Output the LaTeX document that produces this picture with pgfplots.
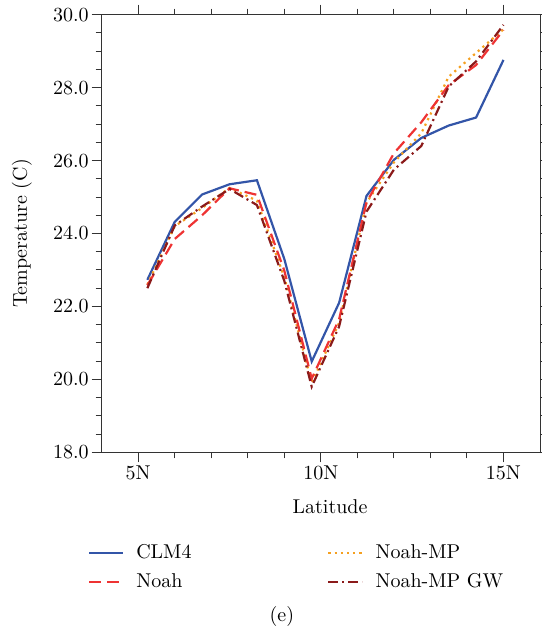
\documentclass[border=0pt]{standalone}
\usepackage{pgfplots}
\pgfplotsset{compat=1.18}
\definecolor{clmblue}{HTML}{3355A8}
\definecolor{noahred}{HTML}{EE3333}
\definecolor{mporange}{HTML}{F5A020}
\definecolor{gwred}{HTML}{8B1A1A}
\begin{document}
\begin{tikzpicture}
\begin{axis}[
  at={(0,0)}, anchor=south west,
  scale only axis, width=219.15pt, height=218.8pt,
  xmin=4, xmax=16, ymin=18, ymax=30,
  clip=false,
  xtick={5,10,15}, xticklabels={5N,10N,15N},
  minor x tick num=4,
  ytick={18,20,22,24,26,28,30},
  minor y tick num=3,
  yticklabel style={xshift=2pt, /pgf/number format/.cd, fixed, fixed zerofill, precision=1},
  tick align=outside,
  major tick length=5pt, minor tick length=3pt,
  every tick/.style={black!80, line width=0.5pt},
  axis line style={black!80, line width=0.5pt},
  font=\fontsize{10}{12}\selectfont,
  xticklabel style={yshift=2pt},
  xlabel={Latitude}, ylabel={Temperature (C)},
  xlabel style={at={(axis description cs:0.521,-0.125)}, anchor=center},
  ylabel style={at={(axis description cs:-0.182,0.5)}, anchor=center},
  legend columns=2,
  legend style={draw=none, fill=none, at={(axis description cs:0,0)}, anchor=north west,
    xshift=-10pt, yshift=-42pt, row sep=2pt, cells={anchor=west},
    /tikz/every even column/.append style={column sep=0pt}},
  legend image code/.code={\draw[#1] plot coordinates {(0pt,0pt) (17pt,0pt)}; \path (21pt,0pt);},
]
\addplot[clmblue, line width=1.1pt] coordinates {
(5.25,22.73) (6.0,24.32) (6.75,25.07) (7.5,25.35) (8.25,25.46) (9.0,23.3) (9.75,20.49)
(10.5,22.1) (11.25,25.03) (12.0,26.02) (12.75,26.62) (13.5,26.96) (14.25,27.18) (15.0,28.76)};
\addlegendentry{\makebox[93.5pt][l]{CLM4}}
\addplot[mporange, line width=1.1pt, dotted] coordinates {
(5.25,22.6) (6.0,24.2) (6.75,24.7) (7.5,25.25) (8.25,24.9) (9.0,22.8) (9.75,19.9)
(10.5,21.55) (11.25,24.85) (12.0,25.95) (12.75,26.75) (13.5,28.3) (14.25,28.95) (15.0,29.6)};
\addlegendentry{Noah-MP}
\addplot[noahred, line width=1.1pt, dash pattern=on 6pt off 3pt] coordinates {
(5.25,22.58) (6.0,23.85) (6.75,24.5) (7.5,25.24) (8.25,25.06) (9.0,22.98) (9.75,20.02)
(10.5,21.65) (11.25,24.85) (12.0,26.2) (12.75,27.05) (13.5,28.07) (14.25,28.62) (15.0,29.58)};
\addlegendentry{\makebox[93.5pt][l]{Noah}}
\addplot[gwred, line width=1.1pt, dash pattern=on 5pt off 2pt on 1pt off 2pt] coordinates {
(5.25,22.5) (6.0,24.22) (6.75,24.74) (7.5,25.22) (8.25,24.78) (9.0,22.7) (9.75,19.8)
(10.5,21.45) (11.25,24.6) (12.0,25.75) (12.75,26.4) (13.5,28.03) (14.25,28.72) (15.0,29.72)};
\addlegendentry{Noah-MP GW}
\node[font=\fontsize{10}{12}\selectfont] at (axis description cs:0.411,-0.376) {(e)};
\end{axis}
\pgfresetboundingbox
\path (-50.85pt,-89.35pt) rectangle (219.65pt,226.15pt);
\end{tikzpicture}
\end{document}
